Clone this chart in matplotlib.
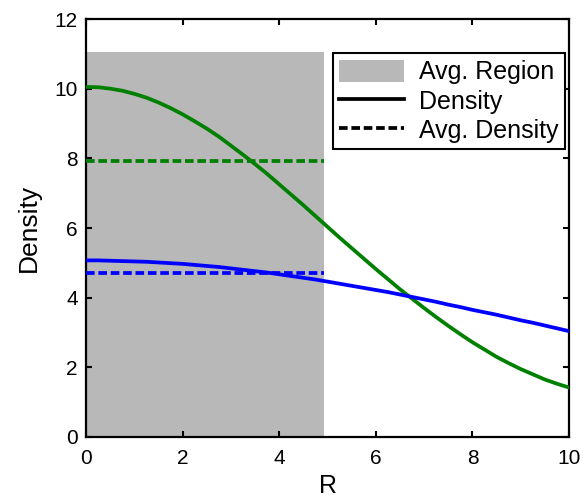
import matplotlib
matplotlib.use("Agg")
import matplotlib.pyplot as plt
from matplotlib.patches import Patch
from matplotlib.lines import Line2D

plt.rcParams['font.family'] = ['Liberation Sans', 'DejaVu Sans']

r = [0.0, 0.25, 0.5, 0.75, 1.0, 1.25, 1.5, 1.75, 2.0, 2.25, 2.5, 2.75, 3.0, 3.25, 3.5, 3.75,
     4.0, 4.25, 4.5, 4.75, 5.0, 5.25, 5.5, 5.75, 6.0, 6.25, 6.5, 6.75, 7.0, 7.25, 7.5, 7.75,
     8.0, 8.25, 8.5, 8.75, 9.0, 9.25, 9.5, 9.75, 10.0]
density_green = [10.05, 10.04, 10.00, 9.94, 9.85, 9.74, 9.60, 9.44, 9.26, 9.06, 8.85, 8.62,
                 8.36, 8.10, 7.83, 7.55, 7.25, 6.95, 6.65, 6.34, 6.03, 5.72, 5.42, 5.12,
                 4.82, 4.53, 4.24, 3.97, 3.70, 3.44, 3.19, 2.95, 2.72, 2.51, 2.30, 2.12,
                 1.95, 1.80, 1.65, 1.53, 1.42]
density_blue = [5.07, 5.07, 5.06, 5.05, 5.04, 5.03, 5.01, 4.99, 4.97, 4.94, 4.91, 4.88,
                4.84, 4.80, 4.76, 4.72, 4.67, 4.62, 4.57, 4.52, 4.46, 4.40, 4.34, 4.28,
                4.22, 4.16, 4.09, 4.02, 3.95, 3.88, 3.80, 3.73, 3.65, 3.58, 3.51, 3.43,
                3.35, 3.28, 3.20, 3.12, 3.04]
avg_region = [0.0, 4.93]
avg_region_top = 11.04
avg_green = 7.92
avg_blue = 4.71
xticks = [0, 2, 4, 6, 8, 10]
yticks = [0, 2, 4, 6, 8, 10, 12]

LW = 2.7
DASH = (0, (2.3, 1.0))

fig = plt.figure(figsize=(5.83, 5.0), dpi=100)
ax = fig.add_axes([0.148, 0.126, 0.828, 0.836])

ax.fill_between(avg_region, 0, avg_region_top, color='#b8b8b8', linewidth=0, zorder=1)
ax.plot(r, density_green, color='#008000', lw=LW, zorder=3)
ax.plot(r, density_blue, color='#0000ff', lw=LW, zorder=3)
ax.plot(avg_region, [avg_green, avg_green], color='#008000', lw=LW, ls=DASH, zorder=3)
ax.plot(avg_region, [avg_blue, avg_blue], color='#0000ff', lw=LW, ls=DASH, zorder=3)

ax.set_xlim(0, 10)
ax.set_ylim(0, 12)
ax.set_xticks(xticks)
ax.set_yticks(yticks)
ax.tick_params(direction='in', top=True, right=True, labelsize=15, width=1.5, length=4)
ax.tick_params(axis='x', pad=9)
ax.tick_params(axis='y', pad=6)
for s in ax.spines.values():
    s.set_linewidth(1.6)
ax.set_xlabel('R', fontsize=18, labelpad=4)
ax.set_ylabel('Density', fontsize=19, labelpad=10)

handles = [Patch(facecolor='#b8b8b8', edgecolor='none'),
           Line2D([], [], color='black', lw=LW),
           Line2D([], [], color='black', lw=LW, ls=DASH)]
leg = ax.legend(handles, ['Avg. Region', 'Density', 'Avg. Density'],
                loc='upper right', bbox_to_anchor=(0.992, 0.918), borderaxespad=0,
                fontsize=18, frameon=True, fancybox=False, handlelength=2.6,
                handleheight=1.0, handletextpad=0.6, labelspacing=0.18, borderpad=0.25)
leg.get_frame().set_edgecolor('black')
leg.get_frame().set_linewidth(1.5)
leg.get_frame().set_alpha(1)

fig.savefig('out.png', dpi=100)
